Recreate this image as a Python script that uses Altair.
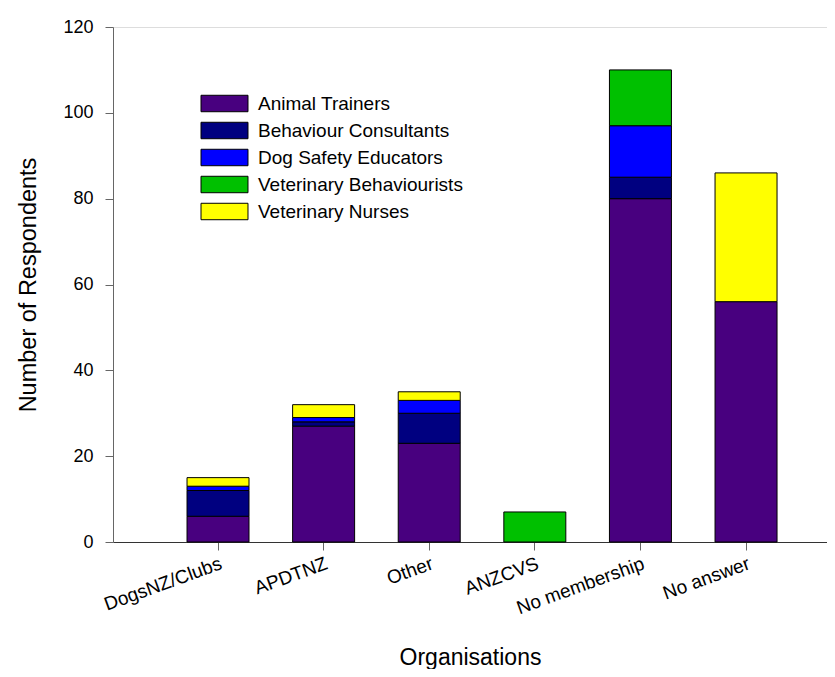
import altair as alt
import pandas as pd

organisations = ["DogsNZ/Clubs", "APDTNZ", "Other", "ANZCVS", "No membership", "No answer"]
roles = ["Animal Trainers", "Behaviour Consultants", "Dog Safety Educators",
         "Veterinary Behaviourists", "Veterinary Nurses"]
animal_trainers = [6, 27, 23, 0, 80, 56]
behaviour_consultants = [6, 1, 7, 0, 5, 0]
dog_safety_educators = [1, 1, 3, 0, 12, 0]
veterinary_behaviourists = [0, 0, 0, 7, 13, 0]
veterinary_nurses = [2, 3, 2, 0, 0, 30]
colors = ["#48007F", "#000080", "#0000FF", "#00C000", "#FFFF00"]

series = [animal_trainers, behaviour_consultants, dog_safety_educators,
          veterinary_behaviourists, veterinary_nurses]
rows = []
for ri, (role, vals) in enumerate(zip(roles, series)):
    for org, v in zip(organisations, vals):
        if v > 0:
            rows.append({"Organisation": org, "Role": role, "Respondents": v, "order": ri})
df = pd.DataFrame(rows)

FONT = "Liberation Sans"

chart = alt.Chart(df).mark_bar(stroke="black", strokeWidth=1).encode(
    x=alt.X("Organisation:N", sort=organisations,
            scale=alt.Scale(paddingInner=0.413, paddingOuter=0.587, align=0.597),
            axis=alt.Axis(title="Organisations", labelAngle=-20, labelAlign="right",
                          labelBaseline="top", labelFontSize=19, labelFont=FONT,
                          labelColor="black", tickSize=8, tickColor="#666666",
                          domainColor="#333333", labelPadding=4,
                          titleFontSize=23, titleFont=FONT, titleFontWeight="normal",
                          titleColor="black", titlePadding=29)),
    y=alt.Y("Respondents:Q", stack="zero",
            scale=alt.Scale(domain=[0, 120], nice=False),
            axis=alt.Axis(title="Number of Respondents", values=list(range(0, 121, 20)),
                          grid=False, labelFontSize=18, labelFont=FONT, labelColor="black",
                          tickSize=8, tickColor="#666666", domainColor="#666666",
                          labelPadding=12, titleFontSize=23.5, titleFont=FONT,
                          titleFontWeight="normal", titleColor="black", titlePadding=22)),
    color=alt.Color("Role:N", scale=alt.Scale(domain=roles, range=colors),
                    legend=alt.Legend(title=None, orient="none", legendX=99, legendY=64,
                                      symbolType="M-2,-0.7L2,-0.7L2,0.7L-2,0.7Z",
                                      symbolSize=552, symbolStrokeColor="black",
                                      symbolStrokeWidth=1, symbolOpacity=1,
                                      labelFontSize=19, labelFont=FONT, labelColor="black",
                                      labelOffset=21, labelLimit=400, rowPadding=4,
                                      padding=0)),
    order=alt.Order("order:Q"),
).properties(
    width=714, height=515,
    autosize=alt.AutoSizeParams(type="none"),
    padding={"left": 105, "top": 19, "right": 0, "bottom": 127},
).configure_view(stroke=None).configure(background="white")

chart.save("out.html", embed_options={"renderer": "svg", "actions": False})
